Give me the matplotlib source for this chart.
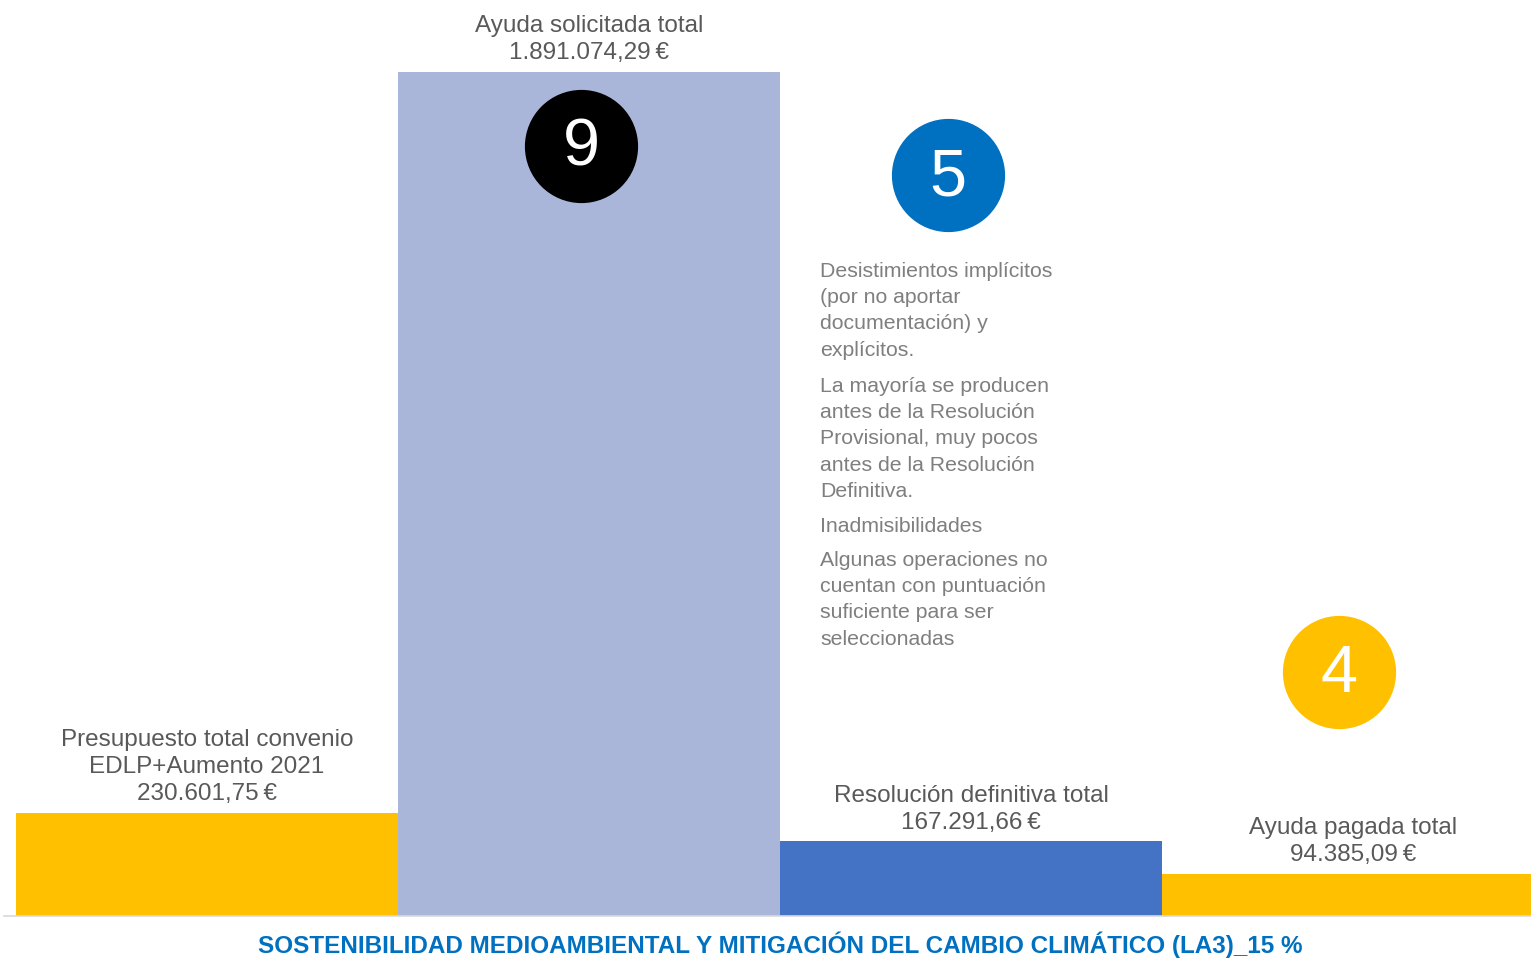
import matplotlib.pyplot as plt

plt.rcParams['font.family'] = ['Liberation Sans', 'DejaVu Sans']

# data
categorias = ['Presupuesto total convenio\nEDLP+Aumento 2021', 'Ayuda solicitada total',
              'Resolución definitiva total', 'Ayuda pagada total']
valores = [230601.75, 1891074.29, 167291.66, 94385.09]
etiquetas_valor = ['230.601,75\u2009€', '1.891.074,29\u2009€', '167.291,66\u2009€', '94.385,09\u2009€']
colores = ['#FFC000', '#A9B6DA', '#4472C4', '#FFC000']

numeros = ['9', '5', '4']
colores_num = ['#000000', '#0070C0', '#FFC000']

notas = [
    'Desistimientos implícitos\n(por no aportar\ndocumentación) y\nexplícitos.',
    'La mayoría se producen\nantes de la Resolución\nProvisional, muy pocos\nantes de la Resolución\nDefinitiva.',
    'Inadmisibilidades',
    'Algunas operaciones no\ncuentan con puntuación\nsuficiente para ser\nseleccionadas',
]
titulo = 'SOSTENIBILIDAD MEDIOAMBIENTAL Y MITIGACIÓN DEL CAMBIO CLIMÁTICO (LA3)_15 %'

W, H = 1531, 958
fig = plt.figure(figsize=(W / 100, H / 100), dpi=100)

def fx(px):
    return px / W

def fy(py):
    return 1 - py / H

# axes: left 4px, right 1531px, baseline at 916px
ax = fig.add_axes([fx(4), fy(916), fx(1531) - fx(4), fy(0) - fy(916)])
ax.set_xlim((4 - 207) / 382, (1531 - 207) / 382)
ax.set_ylim(0, valores[1] * 916 / 844)

x = range(len(valores))
bars = ax.bar(x, valores, width=1.0, color=colores)

for i, b in enumerate(bars):
    ax.annotate(categorias[i] + '\n' + etiquetas_valor[i],
                (b.get_x() + b.get_width() / 2, b.get_height()),
                xytext=(0, 5.5), textcoords='offset points',
                ha='center', va='bottom', fontsize=17.5, color='#595959',
                linespacing=1.3)

for s in ['top', 'right', 'left']:
    ax.spines[s].set_visible(False)
ax.spines['bottom'].set_color('#D9D9D9')
ax.spines['bottom'].set_linewidth(1.2)
ax.set_xticks([])
ax.set_yticks([])

# circles with numbers
centros = [(581, 146), (948, 175), (1339, 672)]
for (cx, cy), n, c in zip(centros, numeros, colores_num):
    ax.plot([fx(cx)], [fy(cy)], 'o', ms=80.5, color=c, transform=fig.transFigure, clip_on=False)
    fig.text(fx(cx), fy(cy + 3), n, ha='center', va='center', fontsize=48, color='white')

# notes
tops = [262, 377, 517, 551]
for t, nota in zip(tops, notas):
    fig.text(fx(820), fy(t), nota, ha='left', va='top', fontsize=15.3, color='#7F7F7F',
             linespacing=1.48)

fig.text(fx(780), fy(945), titulo, ha='center', va='center', fontsize=17.5,
         fontweight='bold', color='#0070C0')

fig.savefig('out.png', dpi=100)
